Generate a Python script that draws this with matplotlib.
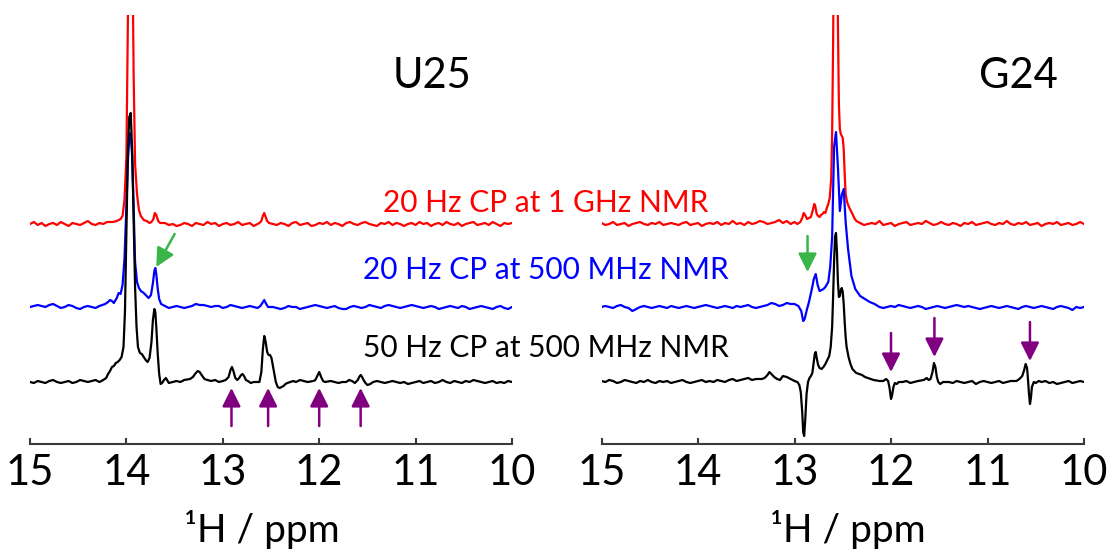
import numpy as np
import matplotlib.pyplot as plt

plt.rcParams['font.family'] = ['Lato', 'DejaVu Sans']

# baseline noise of each trace, evenly sampled from 15 to 10 ppm
u25_red_noise = [0, 2, -1, 1, -2, 0, 1, -1, 2, 0, -2, 1, 0, -1, 1, 3, 0, -1, 1, 0,
                 2, 1, -1, 0, 2, 1, 4, 2, 0, 1, 2, 3, 1, 2, 0, 1, -1, 0, -2, -1,
                 1, 0, -2, 1, 0, -1, 2, 0, 1, -2, 0, 1, -1, 0, 2, -1, 0, 1, -2, -1,
                 0, 3, 1, 0, -1, 1, 0, -2, 1, 2, -1, 0, 1, -2, -1, 1, 0, 2, -1, 1,
                 0, -2, 1, 2, 0, -1, 1, 2, 0, -1, -2, 1, 0, 2, -1, 1, 0, -2, 0, 1,
                 -1, 2, 0, 1, -2, 0, 1, -1, 2, 0, -1, 1, -2, 0, 1, 2, -1, 0, 1, -1,
                 2, 0, -2, 1, 0, 1]
u25_blue_noise = [0, 1, 2, 1, 0, 2, 3, 1, -1, 0, 2, 1, -1, -2, 0, 1, 0, -1, 1, 2,
                  1, 0, 1, -1, 0, 2, 1, 1, 0, 3, 5, 4, 2, 0, 1, 0, -1, 0, 1, 0,
                  -1, 0, 1, 3, 2, 2, 1, 0, 1, 1, -1, 0, 2, 1, 0, -1, 0, 1, 0, -1,
                  1, 2, 1, 0, -1, -2, -1, 1, 0, 0, -2, -1, 0, 1, 2, 1, 0, -1, 0, 1,
                  -1, -2, -2, 0, 1, 0, -1, 0, 2, 1, 0, -1, 1, 2, 1, 0, -1, 0, 1, 2,
                  1, 0, -1, 0, 1, 0, -2, -1, 0, 1, 0, -1, 1, 0, -2, -1, 0, 1, 0, -1,
                  -2, 0, 1, -1, -2, 0]
u25_black_noise = [0, -1, 1, 0, -1, 1, 2, 0, -1, 0, 1, -1, 0, 2, 1, 0, 1, 2, 0, 1,
                   3, 1, 0, 2, 1, 3, 2, 1, 0, 2, 1, 0, 1, 2, 0, 1, -1, 0, 1, 0,
                   2, 1, 0, 1, 3, 2, 4, 3, 1, 3, 2, 5, 6, 4, 2, 1, 0, 1, 2, 1,
                   0, 1, 0, 1, 2, 1, 0, -1, 1, 0, 2, 1, 0, -1, 0, 1, -1, 0, 1, 0,
                   -1, 0, 1, 2, 0, -1, 1, 3, 1, 0, 1, 0, -1, 0, 1, 0, -1, 0, -2, -1,
                   0, 1, -1, 0, 1, -1, 0, 2, 0, -1, 1, 0, -1, 1, 0, 2, 1, 0, -1, 0,
                   1, -1, 0, -1, 1, 0]
g24_red_noise = [1, -1, 0, 2, -1, 0, 1, -2, 0, 1, 2, 0, -1, 1, 0, 2, -1, 0, 1, 0,
                 -1, 1, 2, -1, 0, 1, -2, 0, 1, 0, 2, -1, 1, 0, 3, 0, 1, -1, 2, 0,
                 1, 3, 2, 0, 1, 2, 4, 1, 3, 0, 2, 1, 0, 2, 1, 0, 1, 2, 0, -1,
                 0, 1, -1, 0, 1, -2, 0, 2, -1, 0, 1, 0, 3, -1, 0, 1, -2, 0, 1, 2,
                 -1, 0, 1, 0, 3, 1, -1, 0, 2, 0, -1, 1, 0, -2, 1, 0, 2, -1, 0, 1,
                 2, 0, -1, 1, 0, 3, 0, -1, 1, 0, 2, -1, 0, 1, -2, 0, 1, 0, 2, -1,
                 0, 1, -1, 0, 2, 0]
g24_blue_noise = [0, 1, 0, -1, 1, 2, 0, -1, -4, -2, 0, 1, 0, -1, 0, 1, 0, -1, 1, 0,
                  -1, 0, 1, 0, -1, 0, 1, 2, 1, 0, -1, 0, 1, 0, -1, 1, 0, 1, 2, 0,
                  -1, 0, 1, 2, 4, 3, 1, 2, 4, 3, 5, 2, 1, 0, 0, 1, 0, -1, 0, 1,
                  0, 2, 1, 0, 0, 1, 0, 0, 1, 3, 1, 4, 0, -1, 0, 1, 0, 2, 1, 0,
                  -1, 0, 1, 0, -2, -1, 0, 1, 0, -1, 0, 1, 2, 1, 0, 1, 0, -1, -2, -1,
                  0, 1, 0, -1, 0, 1, 0, -1, -2, 0, 1, 0, -1, 0, 1, 0, -1, -2, 0, 1,
                  0, -1, -3, 0, -1, 0]
g24_black_noise = [1, 0, 2, 1, -1, 0, 2, 1, 0, -1, 1, 0, 2, 0, -1, 1, 0, 1, -1, 0,
                   1, 2, 0, -1, 0, 1, 2, 0, 1, 0, 2, 1, 0, 2, 3, 1, 2, 3, 4, 2,
                   3, 5, 4, 3, 5, 7, 9, 6, 5, 3, 4, 1, 0, 2, 1, 0, 1, 0, 1, 2,
                   1, 3, 2, 4, 3, 2, 4, 5, 3, 2, 1, 0, 1, -1, 0, 1, 0, -1, 0, 1,
                   -1, 0, 1, 0, -1, 1, 0, -1, 1, 2, 0, -1, 1, 0, -1, 0, 1, -2, 0, 1,
                   0, -1, 0, 1, -1, 0, 1, 0, -2, -1, 0, 1, 0, -1, 0, 1, -1, 0, -2, -1,
                   0, 1, -1, 0, 1, 0]

# resolved peaks: chemical shift (ppm) and intensity
u25_red_ppm = [14.14, 14.10, 14.06, 14.04, 14.02, 14.00, 13.985, 13.97, 13.955, 13.94,
               13.925, 13.91, 13.89, 13.87, 13.85, 13.82, 13.79, 13.76, 13.74, 13.72,
               13.705, 13.69, 13.67, 13.65,
               12.62, 12.60, 12.585, 12.57, 12.555, 12.54, 12.52]
u25_red_int = [2, 3, 5, 8, 24, 67, 200, 330, 330, 300, 150, 60, 30, 14, 8, 4, 3, 1, 2, 5,
               11, 9, 3, 1,
               1, 3, 8, 11, 7, 3, 1]

u25_blue_ppm = [14.22, 14.19, 14.17, 14.15, 14.13, 14.10, 14.08, 14.06, 14.04, 14.02,
                14.00, 13.985, 13.97, 13.955, 13.94, 13.925, 13.91, 13.89, 13.87, 13.85,
                13.82, 13.79, 13.77, 13.745, 13.725, 13.71, 13.70, 13.69, 13.675, 13.66,
                13.64, 13.62,
                12.61, 12.59, 12.57, 12.55, 12.53]
u25_blue_int = [3, 5, 7, 6, 4, 9, 14, 13, 22, 48, 100, 145, 170, 174, 150, 100, 45, 25,
                19, 16, 14, 11, 9, 12, 24, 36, 39, 33, 18, 8, 3, 2,
                1, 4, 7, 3, 0]

u25_black_ppm = [14.24, 14.21, 14.19, 14.17, 14.15, 14.13, 14.11, 14.09, 14.07, 14.05,
                 14.03, 14.015, 14.00, 13.985, 13.97, 13.955, 13.94, 13.925, 13.91,
                 13.895, 13.88, 13.86, 13.84, 13.82, 13.80, 13.78, 13.76, 13.74,
                 13.725, 13.71, 13.70, 13.69, 13.675, 13.66, 13.645, 13.63, 13.61, 13.59,
                 13.34, 13.31, 13.28, 13.26, 13.24, 13.22, 13.19, 13.16, 13.12, 13.08,
                 13.04, 13.00, 12.97, 12.94, 12.92, 12.905, 12.89, 12.87, 12.85, 12.83,
                 12.81, 12.795, 12.78, 12.76, 12.74, 12.71, 12.68, 12.65, 12.62, 12.60,
                 12.585, 12.57, 12.555, 12.54, 12.525, 12.51, 12.495, 12.48, 12.465,
                 12.45, 12.43, 12.41, 12.39, 12.37, 12.35, 12.33, 12.30, 12.27,
                 12.06, 12.04, 12.02, 12.00, 11.98, 11.96, 11.94,
                 11.72, 11.69, 11.66, 11.63, 11.60, 11.585, 11.57, 11.555, 11.54, 11.52,
                 11.50, 11.47]
u25_black_int = [2, 4, 8, 11, 15, 16, 19, 20, 22, 25, 35, 70, 150, 230, 265, 269, 230,
                 160, 95, 55, 35, 29, 28, 25, 22, 20, 24, 40, 62, 73, 70, 55, 28, 8, -2,
                 -1, 2, 4,
                 3, 5, 9, 11, 10, 7, 3, 2, 1, 2, 0, 1, 2, 5, 12, 15, 11, 4, 2, 4, 7, 8,
                 6, 2, 1, -1, 0, 0, 0, 10, 32, 46, 40, 30, 27, 27, 24, 16, 8, 0, -5, -6,
                 -5, -4, -2, -1, 0, 1,
                 1, 2, 6, 10, 5, 1, 0,
                 0, 2, 1, -1, 2, 5, 7, 5, 2, -1, -3, -2]

g24_red_ppm = [12.97, 12.94, 12.92, 12.905, 12.89, 12.87, 12.85, 12.83, 12.81, 12.795,
               12.785, 12.77, 12.755, 12.74, 12.725, 12.71, 12.695, 12.68, 12.665, 12.65,
               12.635, 12.62, 12.61, 12.60, 12.59, 12.575, 12.56, 12.55, 12.54, 12.53,
               12.52, 12.51, 12.50, 12.49, 12.48, 12.47, 12.455, 12.44, 12.42, 12.40,
               12.38, 12.36, 12.34, 12.32]
g24_red_int = [0, 2, 6, 11, 9, 5, 6, 7, 14, 20, 18, 10, 8, 7, 9, 10, 12, 11, 16, 20,
               26, 45, 90, 180, 300, 330, 300, 200, 120, 95, 90, 88, 86, 75, 50, 30, 22,
               18, 14, 10, 6, 3, 2, 1]

g24_blue_ppm = [13.00, 12.96, 12.93, 12.91, 12.895, 12.87, 12.85, 12.82, 12.80, 12.78,
                12.76, 12.74, 12.72, 12.70, 12.68, 12.65, 12.63, 12.61, 12.59, 12.57,
                12.55, 12.53, 12.51, 12.49, 12.47, 12.445, 12.41, 12.37, 12.32, 12.27,
                12.22, 12.17]
g24_blue_int = [3, 1, -4, -14, -12, -2, 5, 18, 28, 33, 22, 16, 17, 18, 20, 25, 40, 70,
                160, 175, 140, 96, 112, 118, 85, 58, 31, 18, 11, 8, 5, 3]

g24_black_ppm = [13.34, 13.31, 13.28, 13.26, 13.24, 13.21, 13.18, 13.15,
                 13.00, 12.97, 12.95, 12.935, 12.92, 12.91, 12.90, 12.89, 12.875, 12.86,
                 12.845, 12.83, 12.815, 12.80, 12.79, 12.78, 12.77, 12.755, 12.74, 12.72,
                 12.70, 12.68, 12.66, 12.64, 12.625, 12.61, 12.60, 12.59, 12.58, 12.57,
                 12.56, 12.55, 12.54, 12.53, 12.52, 12.51, 12.50, 12.49, 12.48, 12.47,
                 12.46, 12.44, 12.42, 12.40, 12.38, 12.36, 12.33, 12.30, 12.27, 12.24,
                 12.21, 12.18,
                 12.08, 12.05, 12.03, 12.015, 12.00, 11.99, 11.975, 11.96, 11.94, 11.92,
                 11.66, 11.63, 11.61, 11.59, 11.57, 11.555, 11.54, 11.525, 11.51, 11.49,
                 11.46,
                 10.70, 10.67, 10.64, 10.62, 10.605, 10.59, 10.58, 10.57, 10.56, 10.55,
                 10.54, 10.52, 10.50, 10.47]
g24_black_int = [3, 4, 7, 10, 8, 5, 3, 2,
                 1, 0, -3, -10, -30, -50, -54, -40, -12, 0, 4, 6, 9, 20, 28, 30, 24, 17,
                 14, 13, 15, 18, 22, 26, 35, 55, 85, 120, 145, 149, 130, 100, 85, 86, 92,
                 94, 90, 78, 60, 45, 35, 25, 18, 13, 11, 9, 8, 7, 5, 4, 3, 2,
                 1, 3, 1, -6, -17, -14, -5, -1, -2, 0,
                 2, 4, 2, 3, 10, 19, 15, 5, 0, -2, 0,
                 1, 3, 6, 12, 18, 14, 2, -12, -22, -16, -5, 0, -1, 1]

# vertical offsets of the three stacked spectra
offsets = {'red': 220, 'blue': 137, 'black': 62}

labels = ['20 Hz CP at 1 GHz NMR', '20 Hz CP at 500 MHz NMR', '50 Hz CP at 500 MHz NMR']


def trace(noise, peak_ppm, peak_int):
    grid = np.linspace(15, 10, len(noise))
    pk = np.asarray(peak_ppm, float)
    keep = np.array([np.min(np.abs(pk - p)) > 0.025 for p in grid])
    x = np.concatenate([grid[keep], pk])
    y = np.concatenate([np.asarray(noise, float)[keep], np.asarray(peak_int, float)])
    order = np.argsort(-x)
    return x[order], y[order]


fig = plt.figure(figsize=(11.1, 5.53), dpi=100)
W, H = 1110, 553
ax1 = fig.add_axes([30 / W, 109 / H, 482 / W, 429 / H])
ax2 = fig.add_axes([601.5 / W, 109 / H, 482.5 / W, 429 / H])

panels = [
    (ax1, [(u25_red_noise, u25_red_ppm, u25_red_int, 'red'),
           (u25_blue_noise, u25_blue_ppm, u25_blue_int, 'blue'),
           (u25_black_noise, u25_black_ppm, u25_black_int, 'black')]),
    (ax2, [(g24_red_noise, g24_red_ppm, g24_red_int, 'red'),
           (g24_blue_noise, g24_blue_ppm, g24_blue_int, 'blue'),
           (g24_black_noise, g24_black_ppm, g24_black_int, 'black')]),
]

for ax, specs in panels:
    for noise, pp, ii, col in specs:
        x, y = trace(noise, pp, ii)
        ax.plot(x, y + offsets[col], color=col, lw=1.6, solid_joinstyle='round')
    ax.set_xlim(15, 10)
    ax.set_ylim(0, 429)
    for s in ['top', 'left', 'right']:
        ax.spines[s].set_visible(False)
    ax.spines['bottom'].set_color('#3a3a3a')
    ax.spines['bottom'].set_linewidth(1.5)
    ax.set_xticks([15, 14, 13, 12, 11, 10])
    ax.set_yticks([])
    ax.tick_params(axis='x', direction='in', length=4, width=1.5, color='#3a3a3a',
                   labelsize=30, pad=7)
    ax.patch.set_visible(False)

green = '#39b54a'
purple = '#800080'
arrow_kw = dict(arrowstyle='-|>', lw=1.8, mutation_scale=28, shrinkA=0, shrinkB=0)

ax1.annotate('', xy=(13.69, 177), xytext=(13.50, 210),
             arrowprops=dict(color=green, **arrow_kw))
ax2.annotate('', xy=(12.865, 172), xytext=(12.865, 208),
             arrowprops=dict(color=green, **arrow_kw))

for p in [12.91, 12.53, 12.0, 11.57]:
    ax1.annotate('', xy=(p, 56), xytext=(p, 18),
                 arrowprops=dict(color=purple, **arrow_kw))
for p, top, tip in [(12.0, 111, 72), (11.55, 126, 87), (10.56, 122, 83)]:
    ax2.annotate('', xy=(p, tip), xytext=(p, top),
                 arrowprops=dict(color=purple, **arrow_kw))

# panel titles and trace labels
fig.text(471 / W, 1 - 88 / H, 'U25', fontsize=30, ha='right', va='baseline')
fig.text(1058 / W, 1 - 88 / H, 'G24', fontsize=30, ha='right', va='baseline')
for lab, col, yb in zip(labels, ['red', 'blue', 'black'], [212, 279, 357]):
    fig.text(546 / W, 1 - yb / H, lab, color=col, fontsize=21.5, ha='center', va='baseline')

fig.text(262 / W, 1 - 542 / H, '¹H / ppm', fontsize=28, ha='center', va='baseline')
fig.text(848 / W, 1 - 542 / H, '¹H / ppm', fontsize=28, ha='center', va='baseline')

fig.savefig('out.png', dpi=100)
